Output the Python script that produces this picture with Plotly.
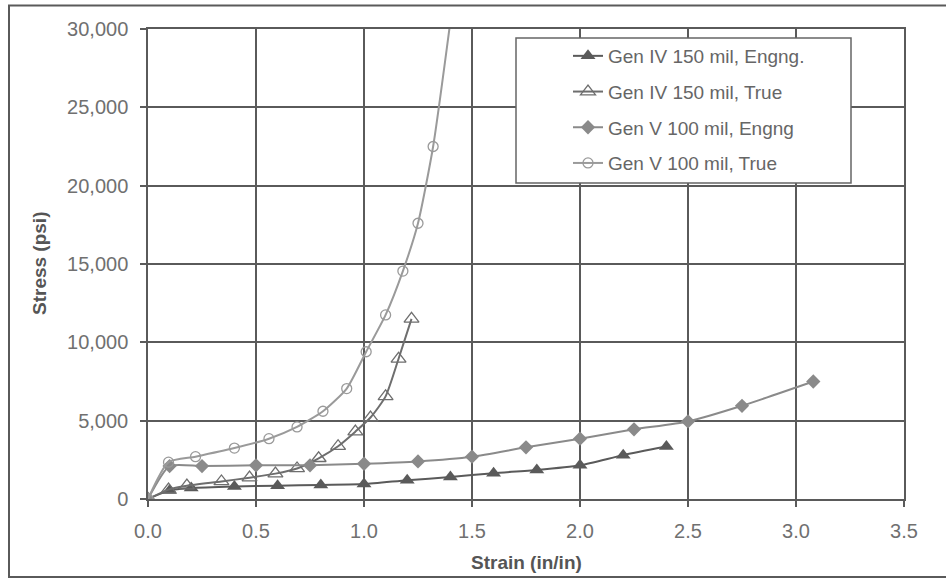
import plotly.graph_objects as go

# Gen IV 150 mil, engineering stress-strain
gen4_eng_strain = [0.0, 0.1, 0.2, 0.4, 0.6, 0.8, 1.0, 1.2, 1.4, 1.6, 1.8, 2.0, 2.2, 2.4]
gen4_eng_stress = [0, 550, 700, 800, 850, 900, 950, 1200, 1400, 1650, 1850, 2150, 2800, 3350]

# Gen IV 150 mil, true stress-strain
gen4_true_strain = [0.0, 0.095, 0.18, 0.34, 0.47, 0.59, 0.69, 0.79, 0.88, 0.96, 1.03, 1.10, 1.16, 1.22]
gen4_true_stress = [0, 600, 850, 1120, 1360, 1620, 1950, 2600, 3370, 4300, 5200, 6550, 8950, 11500]

# Gen V 100 mil, engineering stress-strain
gen5_eng_strain = [0.0, 0.1, 0.25, 0.5, 0.75, 1.0, 1.25, 1.5, 1.75, 2.0, 2.25, 2.5, 2.75, 3.08]
gen5_eng_stress = [0, 2100, 2100, 2150, 2150, 2250, 2400, 2700, 3300, 3850, 4450, 4950, 5950, 7500]

# Gen V 100 mil, true stress-strain
gen5_true_strain = [0.0, 0.095, 0.22, 0.40, 0.56, 0.69, 0.81, 0.92, 1.01, 1.10, 1.18, 1.25, 1.32, 1.40]
gen5_true_stress = [0, 2350, 2700, 3250, 3850, 4600, 5600, 7050, 9400, 11750, 14550, 17600, 22500, 30500]

series_names = ["Gen IV 150 mil, Engng.", "Gen IV 150 mil, True",
                "Gen V 100 mil, Engng", "Gen V 100 mil, True"]

x_ticks = [0.0, 0.5, 1.0, 1.5, 2.0, 2.5, 3.0, 3.5]
y_ticks = [0, 5000, 10000, 15000, 20000, 25000, 30000]

FONT = "Liberation Sans, Arial, sans-serif"
GRID = "#5a5a5a"

fig = go.Figure()

fig.add_trace(go.Scatter(
    x=gen4_eng_strain, y=gen4_eng_stress, name=series_names[0], legendgroup="a",
    mode="lines+markers", line=dict(color="#5a5a5a", width=2, shape="spline", smoothing=0.6),
    marker=dict(symbol="triangle-up", size=13, color="#5a5a5a"),
))
fig.add_trace(go.Scatter(
    x=gen4_true_strain, y=gen4_true_stress, name=series_names[1], legendgroup="b",
    mode="lines+markers", line=dict(color="#6e6e6e", width=2, shape="spline", smoothing=0.6),
    marker=dict(symbol="triangle-up-open", size=13, color="#6e6e6e", line=dict(width=1.3)),
))
fig.add_trace(go.Scatter(
    x=gen5_eng_strain, y=gen5_eng_stress, name=series_names[2], legendgroup="c",
    mode="lines+markers", line=dict(color="#8a8a8a", width=2, shape="spline", smoothing=0.6),
    marker=dict(symbol="diamond", size=11, color="#8a8a8a"),
))
fig.add_trace(go.Scatter(
    x=gen5_true_strain, y=gen5_true_stress, name=series_names[3], legendgroup="d",
    mode="lines+markers", line=dict(color="#9a9a9a", width=2, shape="spline", smoothing=0.6),
    marker=dict(symbol="circle-open", size=10, color="#9a9a9a", line=dict(width=1.3)),
))

# plot geometry in pixels
W, H = 946, 580
L, R, T, B = 148, 42, 29, 81
pw, ph = W - L - R, H - T - B


def px_x(p):
    return (p - L) / pw


def px_y(p):
    return (H - B - p) / ph


fig.update_layout(
    width=W, height=H,
    margin=dict(l=L, r=R, t=T, b=B),
    paper_bgcolor="white", plot_bgcolor="white",
    font=dict(family=FONT, color="#666666", size=19),
    showlegend=True,
    legend=dict(
        x=px_x(568), y=px_y(37), xanchor="left", yanchor="top",
        bgcolor="rgba(0,0,0,0)", borderwidth=0,
        font=dict(family=FONT, size=19, color="#666666"),
        traceorder="grouped", tracegroupgap=8,
    ),
    xaxis=dict(
        range=[0, 3.5], tickvals=x_ticks, tickformat=".1f",
        showgrid=True, gridcolor=GRID, gridwidth=1.5,
        showline=True, linecolor=GRID, linewidth=1.5, mirror=True,
        ticks="outside", ticklen=6, tickcolor=GRID, tickwidth=1.5,
        tickfont=dict(family=FONT, size=20, color="#707070"),
        ticklabelstandoff=7, zeroline=False,
    ),
    yaxis=dict(
        range=[0, 30000], tickvals=y_ticks, tickformat=",d",
        showgrid=True, gridcolor=GRID, gridwidth=1.5,
        showline=True, linecolor=GRID, linewidth=1.5, mirror=True,
        ticks="outside", ticklen=6, tickcolor=GRID, tickwidth=1.5,
        tickfont=dict(family=FONT, size=20, color="#707070"),
        ticklabelstandoff=8, zeroline=False,
    ),
    shapes=[
        # legend frame, white-filled so the grid does not show through
        dict(type="rect", xref="paper", yref="paper", layer="above",
             x0=px_x(516), x1=px_x(851), y0=px_y(183), y1=px_y(38),
             fillcolor="white", line=dict(color="#666666", width=1.5)),
        # chart frame
        dict(type="rect", xref="paper", yref="paper", layer="below",
             x0=px_x(9), x1=px_x(948), y0=px_y(577), y1=px_y(5.5),
             line=dict(color="#5a5a5a", width=2)),
    ],
    annotations=[
        dict(text="<b>Strain (in/in)</b>", xref="paper", yref="paper",
             x=px_x(526), y=px_y(562), xanchor="center", yanchor="middle",
             showarrow=False, font=dict(family=FONT, size=19, color="#555555")),
        dict(text="<b>Stress (psi)</b>", xref="paper", yref="paper",
             x=px_x(39), y=px_y(264), xanchor="center", yanchor="middle",
             textangle=-90, showarrow=False,
             font=dict(family=FONT, size=19, color="#555555")),
    ],
)

fig.write_html("out.html")
